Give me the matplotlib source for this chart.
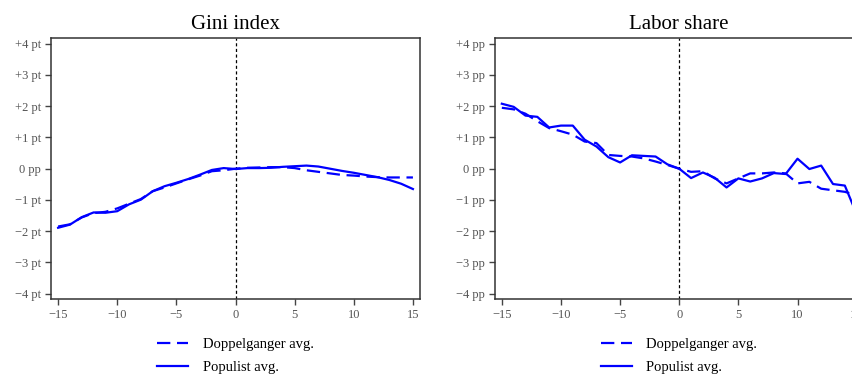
import matplotlib
matplotlib.use("Agg")
import matplotlib.pyplot as plt

plt.rcParams["font.family"] = ["Liberation Serif", "DejaVu Serif"]

years = list(range(-15, 16))

# Gini index (pt change relative to year 0)
gini_populist = [-1.89, -1.79, -1.55, -1.40, -1.41, -1.36, -1.14, -0.99, -0.72, -0.56,
                 -0.45, -0.33, -0.19, -0.04, 0.02, -0.01, 0.02, 0.02, 0.03, 0.06,
                 0.08, 0.10, 0.07, 0.00, -0.07, -0.13, -0.20, -0.27, -0.36, -0.48, -0.65]
gini_doppel = [-1.85, -1.78, -1.56, -1.42, -1.38, -1.27, -1.12, -0.97, -0.72, -0.60,
               -0.47, -0.34, -0.22, -0.08, -0.05, 0.00, 0.03, 0.04, 0.05, 0.05,
               0.02, -0.05, -0.10, -0.15, -0.20, -0.22, -0.25, -0.27, -0.28, -0.28, -0.28]

# Labor share (pp change relative to year 0)
labor_populist = [2.08, 1.98, 1.70, 1.66, 1.32, 1.38, 1.38, 0.93, 0.71, 0.37,
                  0.20, 0.43, 0.41, 0.39, 0.14, 0.00, -0.30, -0.12, -0.29, -0.60,
                  -0.31, -0.41, -0.31, -0.14, -0.17, 0.32, -0.01, 0.10, -0.49, -0.54, -1.45]
labor_doppel = [1.95, 1.90, 1.76, 1.52, 1.30, 1.20, 1.09, 0.87, 0.82, 0.44,
                0.41, 0.39, 0.33, 0.23, 0.12, 0.00, -0.10, -0.08, -0.31, -0.47,
                -0.31, -0.15, -0.15, -0.12, -0.15, -0.47, -0.42, -0.64, -0.69, -0.74, -0.85]

xticks = [-15, -10, -5, 0, 5, 10, 15]
xticklabels = ["\u221215", "\u221210", "\u22125", "0", "5", "10", "15"]
yticks = [4, 3, 2, 1, 0, -1, -2, -3, -4]
gini_ylabels = ["+4 pt", "+3 pt", "+2 pt", "+1 pt", "0 pp",
                "\u22121 pt", "\u22122 pt", "\u22123 pt", "\u22124 pt"]
labor_ylabels = ["+4 pp", "+3 pp", "+2 pp", "+1 pp", "0 pp",
                 "\u22121 pp", "\u22122 pp", "\u22123 pp", "\u22124 pp"]

panels = [
    ("Gini index", gini_doppel, gini_populist, gini_ylabels),
    ("Labor share", labor_doppel, labor_populist, labor_ylabels),
]

fig = plt.figure(figsize=(8.53, 3.76), dpi=100)
positions = [[0.0598, 0.2048, 0.4326, 0.693],
             [0.5800, 0.2048, 0.4326, 0.693]]

line_color = "#0000ff"
tick_grey = "#555555"

for pos, (title, doppel, populist, ylabels) in zip(positions, panels):
    ax = fig.add_axes(pos)
    ax.axvline(0, color="black", lw=0.9, linestyle=(0, (2.5, 2.0)), zorder=1)
    ax.plot(years, doppel, color=line_color, lw=1.6, linestyle=(0, (6, 3)),
            label="Doppelganger avg.", zorder=3)
    ax.plot(years, populist, color=line_color, lw=1.6, linestyle="-",
            label="Populist avg.", zorder=3)
    ax.set_xlim(-15.6, 15.6)
    ax.set_ylim(-4.17, 4.17)
    ax.set_xticks(xticks)
    ax.set_xticklabels(xticklabels)
    ax.set_yticks(yticks)
    ax.set_yticklabels(ylabels)
    ax.tick_params(axis="both", direction="out", length=4, width=1.0,
                   color="#444444", labelcolor=tick_grey, labelsize=9, pad=3)
    for sp in ax.spines.values():
        sp.set_color("#333333")
        sp.set_linewidth(1.1)
    ax.set_title(title, fontsize=15, pad=7)
    ax.legend(loc="upper center", bbox_to_anchor=(0.5, -0.10), frameon=False,
              fontsize=10.5, handlelength=2.1, handletextpad=1.0,
              labelspacing=0.65)

fig.savefig("out.png", dpi=100)
